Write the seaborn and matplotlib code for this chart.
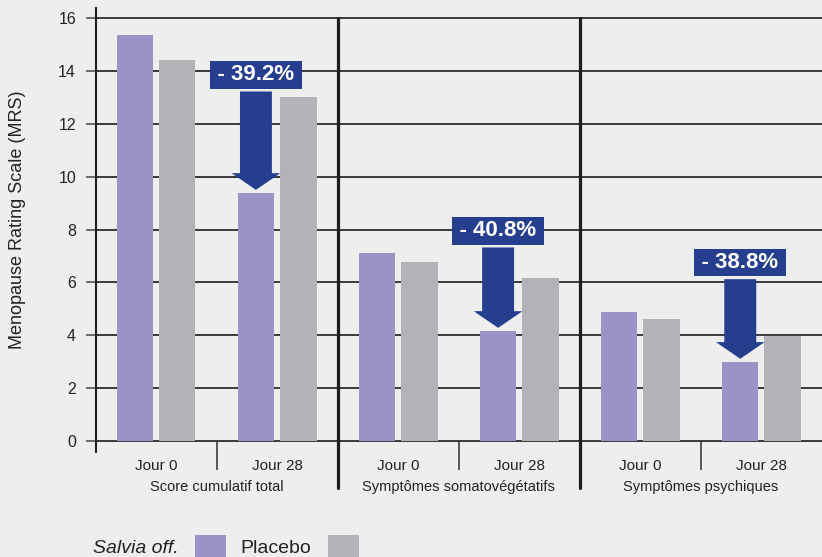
import numpy as np
import pandas as pd
import matplotlib.pyplot as plt
import seaborn as sns
from matplotlib.patches import Patch

# Valeurs (MRS)
groups = ['Score cumulatif total', 'Symptômes somatovégétatifs', 'Symptômes psychiques']
days = ['Jour 0', 'Jour 28']
salvia = [15.35, 9.38, 7.11, 4.16, 4.88, 2.99]
placebo = [14.41, 13.01, 6.77, 6.16, 4.61, 3.97]
reductions = ['- 39.2%', '- 40.8%', '- 38.8%']
label_y = [13.85, 7.95, 6.75]

purple = '#9b93c6'
grey = '#b2b3b6'
navy = '#253f8e'
bg = '#eeeeee'
line = '#3a3a3a'
txt_c = '#222222'

sns.set_theme(style='white')
plt.rcParams['font.family'] = ['Liberation Sans', 'DejaVu Sans']

cats = [g + '|' + d for g in groups for d in days]
df = pd.DataFrame({
    'cat': cats * 2,
    'MRS': salvia + placebo,
    'groupe': ['Salvia off.'] * 6 + ['Placebo'] * 6,
})

W, H = 822, 557
fig = plt.figure(figsize=(W / 100, H / 100), dpi=100)
fig.patch.set_facecolor(bg)
ax = fig.add_axes([95.5 / W, 1 - 452 / H, 1 - 95.5 / W, 444 / H])
ax.set_facecolor(bg)

sns.barplot(data=df, x='cat', y='MRS', hue='groupe', palette=[purple, grey],
            width=0.7, gap=0.14, saturation=1, linewidth=0, legend=False, ax=ax)

ax.set_xlim(-0.5, 5.5)
ax.set_ylim(-0.416, 16.38)
ax.set_yticks(range(0, 17, 2))
ax.set_axisbelow(True)
ax.yaxis.grid(True, color=line, lw=1.4)
ax.xaxis.grid(False)
ax.tick_params(axis='y', left=True, length=7, width=1.4, color='#6a6a6a', pad=7,
               labelsize=11.5, labelcolor=txt_c)
ax.set_xticks(range(6), days * 3)
ax.tick_params(axis='x', length=0, pad=5, labelsize=11, labelcolor=txt_c)
ax.set_xlabel('')
ax.set_ylabel('Menopause Rating Scale (MRS)', fontsize=13, color=txt_c)
ax.yaxis.set_label_coords(-0.0957, 0.523)

for s in ['top', 'right', 'bottom']:
    ax.spines[s].set_visible(False)
ax.spines['left'].set_color('#222222')
ax.spines['left'].set_linewidth(1.5)

# séparateurs et petits traits sous l'axe
for xs in [1.5, 3.5]:
    ax.axvline(xs, ymin=(452 - 488) / 444, ymax=(452 - 18) / 444,
               color='#1e1e1e', lw=2.3, clip_on=False)
ax.vlines([0.5, 2.5, 4.5], -1.1, 0, colors=line, lw=1.2, clip_on=False)

for i, g in enumerate(groups):
    ax.text(2 * i + 0.5, (452 - 487) / 444, g, transform=ax.get_xaxis_transform(),
            ha='center', va='center', fontsize=10.5, color=txt_c)

# flèches de réduction
for i, (txt, ly) in enumerate(zip(reductions, label_y)):
    p = ax.patches[2 * i + 1]
    bx = p.get_x() + p.get_width() / 2
    top = p.get_height()
    ax.annotate('\u2009' + txt + '\u2009', xy=(bx, top + 0.12), xytext=(bx, ly),
                ha='center', va='center', color='white', fontsize=16, fontweight='bold',
                bbox=dict(boxstyle='square,pad=0.15', fc=navy, ec='none'),
                arrowprops=dict(arrowstyle='simple,head_length=12,head_width=35,tail_width=23',
                                mutation_scale=1, fc=navy, ec='none', shrinkA=2, shrinkB=0))

handles = [Patch(fc=purple, ec='none'), Patch(fc=grey, ec='none')]
leg = fig.legend(handles, ['Salvia off.', 'Placebo'], loc='lower left',
                 bbox_to_anchor=(93 / W, 0.0), ncol=2, frameon=False, markerfirst=False,
                 fontsize=14, handlelength=1.6, handleheight=1.34, handletextpad=0.85,
                 columnspacing=0.75, borderpad=0, borderaxespad=0)
for t in leg.get_texts():
    t.set_color(txt_c)
leg.get_texts()[0].set_fontstyle('italic')

fig.savefig('out.png', dpi=100, facecolor=bg)
